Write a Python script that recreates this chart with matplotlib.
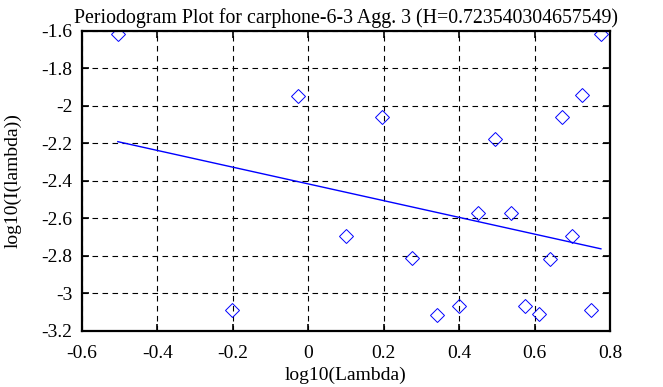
import matplotlib
matplotlib.use("Agg")
import matplotlib.pyplot as plt

# periodogram points (log10 lambda, log10 I(lambda))
log_lambda = [-0.505, -0.202, -0.027, 0.099, 0.195, 0.274, 0.341, 0.400,
              0.449, 0.495, 0.538, 0.576, 0.611, 0.642, 0.672, 0.699,
              0.725, 0.751, 0.775]
log_I = [-1.616, -3.087, -1.946, -2.695, -2.058, -2.811, -3.117, -3.067,
         -2.570, -2.177, -2.570, -3.067, -3.112, -2.815, -2.058, -2.694,
         -1.942, -3.089, -1.618]

# least-squares fit line endpoints
fit_x = [-0.505, 0.776]
fit_y = [-2.191, -2.763]

title = "Periodogram Plot for carphone-6-3 Agg. 3 (H=0.723540304657549)"
xticks = [-0.6, -0.4, -0.2, 0, 0.2, 0.4, 0.6, 0.8]
yticks = [-3.2, -3, -2.8, -2.6, -2.4, -2.2, -2, -1.8, -1.6]

plt.rcParams["font.family"] = ["Liberation Serif", "DejaVu Serif"]

fig = plt.figure(figsize=(6.63, 3.87), dpi=100)
ax = fig.add_axes([0.1237, 0.1455, 0.7963, 0.7745])

ax.plot(log_lambda, log_I, linestyle="none", marker="D", markersize=7,
        markerfacecolor="none", markeredgecolor="#0000ff", markeredgewidth=0.7)
ax.plot(fit_x, fit_y, color="#0000ff", linewidth=1.0)

ax.set_xlim(-0.6, 0.8)
ax.set_ylim(-3.2, -1.6)
ax.set_xticks(xticks)
ax.set_yticks(yticks)
ax.set_xticklabels(["%g" % v for v in xticks])
ax.set_yticklabels(["%g" % v for v in yticks])
ax.grid(True, color="black", linestyle=(0, (5, 4)), linewidth=0.8)
ax.tick_params(direction="in", top=True, right=True, length=5, width=1.2,
               labelsize=14)
ax.tick_params(axis="x", pad=10)
ax.tick_params(axis="y", pad=7)
for s in ax.spines.values():
    s.set_linewidth(1.6)

ax.set_xlabel("log10(Lambda)", fontsize=14, labelpad=4)
ax.set_ylabel("log10(I(lambda))", fontsize=14, labelpad=14)
ax.set_title(title, fontsize=14.3, pad=6)

fig.savefig("out.png", dpi=100)
